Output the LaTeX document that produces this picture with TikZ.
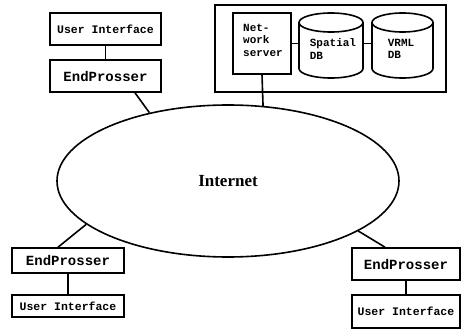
\documentclass[tikz,border=0pt]{standalone}
\usepackage{fontspec}
\setmainfont{Liberation Serif}
\setmonofont{Liberation Mono}
\usetikzlibrary{shapes.geometric}
\begin{document}
\begin{tikzpicture}[x=1pt,y=-1pt,
  lw/.style={line width=1.6pt},
  boxnode/.style={draw, lw, inner sep=0pt, rectangle},
  uifont/.style={font=\ttfamily\bfseries\fontsize{11.5}{13}\selectfont},
  epfont/.style={font=\ttfamily\bfseries\fontsize{14}{16}\selectfont},
  dbfont/.style={font=\ttfamily\bfseries\fontsize{11}{12.5}\selectfont, align=left, inner sep=0pt},
  conn/.style={lw}]
\useasboundingbox (0,0) rectangle (461,329);
% top-left client
\node[boxnode, uifont, minimum width=111, minimum height=32] (ui1) at (105.5,29) {User Interface};
\node[boxnode, epfont, minimum width=111, minimum height=32] (ep1) at (105.5,76) {EndProsser};
% server container
\node[boxnode, minimum width=231, minimum height=87] (cont) at (330.5,48.5) {};
\node[boxnode, minimum width=58, minimum height=61] (srv) at (262,43.5) {};
\node[dbfont] (srvtext) at (263,40) {Net-\\work\\server};
% Spatial DB cylinder
\draw[lw] (331,22.5) ellipse [x radius=32, y radius=9.5];
\draw[lw] (299,22.5) -- (299,68.5) arc[start angle=180, end angle=0, x radius=32, y radius=9.5] -- (363,22.5);
\node[inner sep=0pt, minimum width=64, minimum height=65] (sdb) at (331,45.5) {};
\node[dbfont] (sdbtext) at (333,49) {Spatial\\DB};
% VRML DB cylinder
\draw[lw] (402.5,22.5) ellipse [x radius=30.5, y radius=9.5];
\draw[lw] (372,22.5) -- (372,68.5) arc[start angle=180, end angle=0, x radius=30.5, y radius=9.5] -- (433,22.5);
\node[inner sep=0pt, minimum width=61, minimum height=65] (vdb) at (402.5,45.5) {};
\node[dbfont] (vdbtext) at (401,49) {VRML\\DB};
% Internet
\node[ellipse, draw, lw, inner sep=0pt, minimum width=342, minimum height=152,
  font=\bfseries\fontsize{17}{20}\selectfont] (net) at (228,181) {Internet};
% bottom-left client
\node[boxnode, epfont, minimum width=112, minimum height=25] (ep3) at (68,260.5) {EndProsser};
\node[boxnode, uifont, minimum width=112, minimum height=22] (ui3) at (68,306) {User Interface};
% bottom-right client
\node[boxnode, epfont, minimum width=108, minimum height=32] (ep4) at (406,264) {EndProsser};
\node[boxnode, uifont, minimum width=108, minimum height=33] (ui4) at (406,311.5) {User Interface};
% connectors
\draw[conn] (ui1) -- (ep1);
\draw[conn] ([xshift=29.5pt]ep1.south) -- (net.139.8);
\draw[conn] (srv.east) -- (srv.east -| sdb.west);
\draw[conn] (srv.east -| sdb.east) -- (srv.east -| vdb.west);
\draw[conn] (srv.south) -- (net.65.5);
\draw[conn] ([xshift=-10pt]ep3.north) -- (net.197.7);
\draw[conn] (ep3) -- (ui3);
\draw[conn] ([xshift=-21pt]ep4.north) -- (net.339.2);
\draw[conn] (ep4) -- (ui4);
\end{tikzpicture}
\end{document}
